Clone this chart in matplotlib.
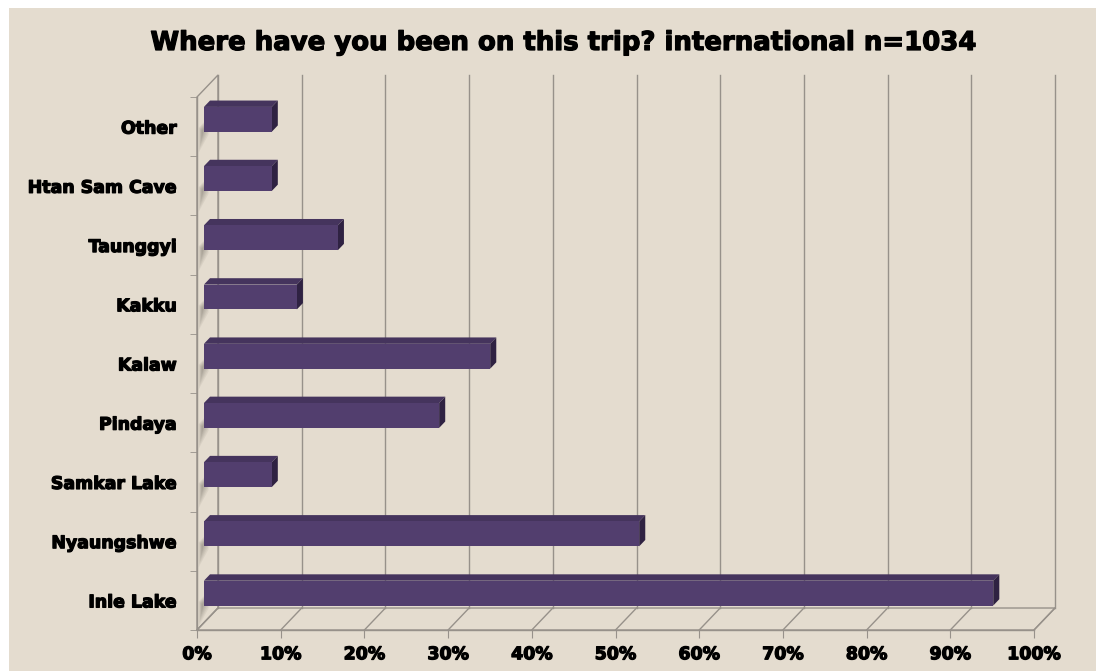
import matplotlib
matplotlib.use("Agg")
import matplotlib.pyplot as plt
from matplotlib.patches import Polygon, Rectangle
import matplotlib.patheffects as pe

# ---- data ----
categories = ["Inle Lake", "Nyaungshwe", "Samkar Lake", "Pindaya", "Kalaw",
              "Kakku", "Taunggyi", "Htan Sam Cave", "Other"]
values = [94.3, 52.0, 8.1, 28.1, 34.2, 11.1, 16.0, 8.1, 8.1]
xticks = [0, 10, 20, 30, 40, 50, 60, 70, 80, 90, 100]
xticklabels = [f"{t}%" for t in xticks]
title = "Where have you been on this trip? international n=1034"

# ---- style ----
FONT, WEIGHT = "DejaVu Sans", "bold"
THICK = [pe.withStroke(linewidth=0.9, foreground="black")]
BG = "#e4dccf"
GRID = "#97918a"
FRONT = "#523e6e"
TOP = "#45345d"
SIDE = "#2f2242"

W, H = 1096, 671
fig = plt.figure(figsize=(W / 100, H / 100), dpi=100)
fig.patch.set_facecolor("white")
fig.patches.append(Rectangle((9 / W, 0), 1, 1 - 8 / H, transform=fig.transFigure,
                             facecolor=BG, edgecolor="none", zorder=-10))

# front plane of the 3D box
ax = fig.add_axes([197 / W, (H - 630) / H, 837 / W, 533 / H])
ax.set_facecolor("none")
ax.set_xlim(0, 100)
ax.set_ylim(-0.5, len(categories) - 0.5)

DX = 21 * 100 / 837
DY = 22 / 59.25
F1, F2 = 0.33, 0.62
HALF = 0.21
y0, y1 = -0.5, len(categories) - 0.5

ax.add_patch(Polygon([(0, y0), (0, y1), (DX, y1 + DY), (DX, y0 + DY)], closed=True,
                     facecolor=BG, edgecolor=GRID, lw=1, clip_on=False, zorder=1))
ax.add_patch(Polygon([(0, y0), (100, y0), (100 + DX, y0 + DY), (DX, y0 + DY)], closed=True,
                     facecolor=BG, edgecolor=GRID, lw=1, clip_on=False, zorder=1))

for t in xticks:
    ax.plot([t + DX, t + DX], [y0 + DY, y1 + DY], color=GRID, lw=1.0,
            clip_on=False, zorder=2)
    ax.plot([t, t + DX], [y0, y0 + DY], color=GRID, lw=1.0, clip_on=False, zorder=2)

# soft shadows cast on the side wall below each bar
for i in range(len(categories)):
    for k in range(6):
        xa = (0.08 + 0.03 * k) * DX
        xb = (0.55 - 0.04 * k) * DX
        ytop = i - 0.05 - 0.02 * k
        ybot = i - HALF - 0.38 + 0.04 * k
        ax.add_patch(Polygon([(xa, ybot + xa / DX * DY + 0.12), (xb, ybot + xb / DX * DY + 0.25),
                              (xb, ytop + xb / DX * DY), (xa, ytop + xa / DX * DY)],
                             closed=True, facecolor="#4a453f", edgecolor="none",
                             alpha=0.07, clip_on=False, zorder=2))

for i, v in enumerate(values):
    ox1, oy1 = F1 * DX, F1 * DY
    ox2, oy2 = F2 * DX, F2 * DY
    front = [(ox1, i - HALF + oy1), (v + ox1, i - HALF + oy1),
             (v + ox1, i + HALF + oy1), (ox1, i + HALF + oy1)]
    top = [(ox1, i + HALF + oy1), (v + ox1, i + HALF + oy1),
           (v + ox2, i + HALF + oy2), (ox2, i + HALF + oy2)]
    side = [(v + ox1, i - HALF + oy1), (v + ox2, i - HALF + oy2),
            (v + ox2, i + HALF + oy2), (v + ox1, i + HALF + oy1)]
    ax.add_patch(Polygon(top, closed=True, facecolor=TOP, edgecolor="none",
                         clip_on=False, zorder=4))
    ax.add_patch(Polygon(side, closed=True, facecolor=SIDE, edgecolor="none",
                         clip_on=False, zorder=4))
    ax.add_patch(Polygon(front, closed=True, facecolor=FRONT, edgecolor="none",
                         clip_on=False, zorder=5))

for s in ["top", "right"]:
    ax.spines[s].set_visible(False)
for s in ["left", "bottom"]:
    ax.spines[s].set_color(GRID)
    ax.spines[s].set_linewidth(1.0)
ax.set_xticks(xticks)
ax.set_xticklabels(xticklabels, fontsize=12.5, fontweight=WEIGHT, family=FONT)
ax.set_yticks(range(len(categories)))
ax.set_yticklabels(categories, fontsize=12.5, fontweight=WEIGHT, family=FONT)
for lab in ax.get_xticklabels() + ax.get_yticklabels():
    lab.set_path_effects(THICK)
ax.set_yticks([i + 0.5 for i in range(-1, len(categories))], minor=True)
ax.tick_params(axis="x", length=6, color=GRID, pad=5)
ax.tick_params(axis="y", which="major", length=0, pad=14.5)
ax.tick_params(axis="y", which="minor", length=5, color=GRID)

fig.text(563 / W, 1 - 43 / H, title, ha="center", va="center",
         fontsize=18.7, fontweight=WEIGHT, family=FONT, path_effects=THICK)

fig.savefig("out.png", dpi=100, facecolor=fig.get_facecolor())
